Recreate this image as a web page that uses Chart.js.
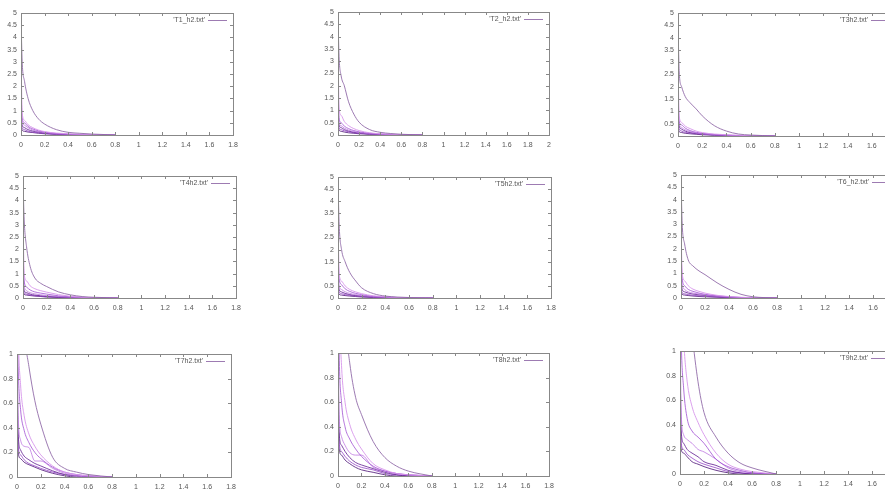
<!DOCTYPE html>
<html>
<head>
<meta charset="utf-8">
<title>h2 runs</title>
<script src="https://cdn.jsdelivr.net/npm/chart.js@4.4.1/dist/chart.umd.min.js"></script>
<style>
html, body { margin: 0; padding: 0; background: #fff; overflow: hidden; width: 885px; height: 491px; }
canvas { position: absolute; filter: blur(0.35px); }
</style>
</head>
<body>
<script>
// sample positions shared by every run (x column of the .txt files)
const X_GRID = [0, 0.01, 0.03, 0.06, 0.1, 0.15, 0.2, 0.3, 0.4, 0.5, 0.6, 0.8]

// one row per run, y values at X_GRID
const t1_h2 = [
	[4.8, 3.0, 2.2, 1.5, 1.0, 0.65, 0.45, 0.22, 0.11, 0.07, 0.04, 0],
	[3.6, 0.9, 0.6, 0.42, 0.3, 0.2, 0.14, 0.08, 0.05, 0.03, 0.02, 0],
	[2.0, 0.7, 0.5, 0.35, 0.25, 0.17, 0.12, 0.06, 0.03, 0.02, 0.01, 0],
	[1.2, 0.55, 0.4, 0.3, 0.2, 0.14, 0.1, 0.05, 0.03, 0.01, 0, 0],
	[0.8, 0.4, 0.3, 0.22, 0.16, 0.12, 0.08, 0.04, 0.02, 0.01, 0, 0],
	[0.6, 0.3, 0.22, 0.16, 0.12, 0.09, 0.06, 0.03, 0.02, 0.01, 0, 0],
	[0.4, 0.2, 0.15, 0.12, 0.1, 0.07, 0.05, 0.03, 0.01, 0, 0, 0],
]
const t2_h2 = [
	[4.8, 3.2, 2.4, 2.0, 1.35, 0.85, 0.52, 0.22, 0.11, 0.06, 0.03, 0],
	[4.0, 1.1, 0.8, 0.55, 0.38, 0.26, 0.18, 0.09, 0.05, 0.03, 0.01, 0],
	[2.5, 0.7, 0.5, 0.36, 0.26, 0.18, 0.13, 0.07, 0.04, 0.02, 0.01, 0],
	[1.5, 0.5, 0.38, 0.28, 0.2, 0.14, 0.1, 0.05, 0.03, 0.01, 0, 0],
	[1.0, 0.4, 0.3, 0.22, 0.16, 0.11, 0.08, 0.04, 0.02, 0.01, 0, 0],
	[0.7, 0.3, 0.22, 0.17, 0.13, 0.09, 0.07, 0.04, 0.02, 0.01, 0, 0],
	[0.5, 0.2, 0.15, 0.12, 0.09, 0.07, 0.05, 0.03, 0.01, 0, 0, 0],
]
const t3_h2 = [
	[4.6, 2.6, 2.0, 1.6, 1.35, 1.1, 0.82, 0.42, 0.2, 0.08, 0.04, 0],
	[3.0, 0.8, 0.55, 0.4, 0.3, 0.2, 0.14, 0.08, 0.05, 0.03, 0.01, 0],
	[1.8, 0.6, 0.45, 0.32, 0.22, 0.15, 0.11, 0.06, 0.03, 0.02, 0.01, 0],
	[1.2, 0.5, 0.35, 0.25, 0.18, 0.12, 0.09, 0.05, 0.03, 0.01, 0, 0],
	[0.8, 0.4, 0.28, 0.2, 0.14, 0.1, 0.08, 0.04, 0.02, 0.01, 0, 0],
	[0.6, 0.3, 0.2, 0.15, 0.12, 0.1, 0.08, 0.05, 0.03, 0.01, 0, 0],
	[0.4, 0.18, 0.14, 0.11, 0.09, 0.07, 0.05, 0.03, 0.01, 0, 0, 0],
]
const t4_h2 = [
	[4.8, 3.2, 2.1, 1.3, 0.82, 0.6, 0.47, 0.25, 0.13, 0.06, 0.03, 0],
	[3.5, 1.0, 0.7, 0.5, 0.38, 0.3, 0.24, 0.14, 0.07, 0.03, 0.01, 0],
	[2.0, 0.7, 0.45, 0.33, 0.25, 0.2, 0.16, 0.09, 0.05, 0.02, 0.01, 0],
	[1.2, 0.5, 0.3, 0.22, 0.17, 0.13, 0.1, 0.06, 0.03, 0.01, 0, 0],
	[0.8, 0.3, 0.22, 0.16, 0.12, 0.09, 0.07, 0.04, 0.02, 0.01, 0, 0],
	[0.5, 0.22, 0.16, 0.12, 0.09, 0.07, 0.05, 0.03, 0.01, 0, 0, 0],
	[0.35, 0.15, 0.12, 0.1, 0.08, 0.06, 0.04, 0.02, 0.01, 0, 0, 0],
]
const t5_h2 = [
	[4.8, 3.0, 2.0, 1.5, 1.05, 0.7, 0.42, 0.18, 0.08, 0.04, 0.02, 0],
	[3.2, 1.0, 0.7, 0.5, 0.35, 0.25, 0.18, 0.09, 0.05, 0.02, 0.01, 0],
	[2.0, 0.8, 0.55, 0.38, 0.27, 0.19, 0.14, 0.07, 0.04, 0.02, 0.01, 0],
	[1.2, 0.5, 0.35, 0.26, 0.19, 0.14, 0.1, 0.05, 0.03, 0.01, 0, 0],
	[0.8, 0.35, 0.25, 0.19, 0.14, 0.1, 0.08, 0.04, 0.02, 0.01, 0, 0],
	[0.5, 0.25, 0.18, 0.14, 0.11, 0.08, 0.06, 0.03, 0.01, 0, 0, 0],
	[0.3, 0.15, 0.12, 0.1, 0.08, 0.06, 0.04, 0.02, 0.01, 0, 0, 0],
]
const t6_h2 = [
	[4.8, 3.0, 2.2, 1.55, 1.3, 1.1, 0.95, 0.62, 0.35, 0.15, 0.05, 0],
	[3.0, 1.0, 0.7, 0.5, 0.36, 0.27, 0.2, 0.11, 0.06, 0.03, 0.01, 0],
	[2.0, 0.8, 0.5, 0.35, 0.27, 0.2, 0.15, 0.09, 0.05, 0.02, 0.01, 0],
	[1.2, 0.55, 0.35, 0.25, 0.2, 0.16, 0.12, 0.07, 0.04, 0.02, 0, 0],
	[0.8, 0.35, 0.25, 0.2, 0.16, 0.13, 0.1, 0.06, 0.03, 0.01, 0, 0],
	[0.5, 0.22, 0.17, 0.14, 0.11, 0.09, 0.07, 0.04, 0.02, 0.01, 0, 0],
	[0.35, 0.15, 0.12, 0.1, 0.08, 0.06, 0.05, 0.03, 0.01, 0, 0, 0],
]
const t7_h2 = [
	[3.0, 2.5, 1.8, 1.2, 0.9, 0.62, 0.43, 0.16, 0.07, 0.04, 0.02, 0],
	[2.0, 1.2, 0.75, 0.5, 0.35, 0.25, 0.18, 0.09, 0.04, 0.02, 0.01, 0],
	[1.5, 0.9, 0.55, 0.38, 0.28, 0.2, 0.15, 0.08, 0.04, 0.02, 0.01, 0],
	[1.2, 0.5, 0.3, 0.25, 0.24, 0.13, 0.13, 0.07, 0.03, 0.01, 0, 0],
	[1.0, 0.35, 0.22, 0.17, 0.14, 0.11, 0.09, 0.05, 0.02, 0.01, 0, 0],
	[0.8, 0.25, 0.18, 0.14, 0.11, 0.09, 0.07, 0.04, 0.02, 0.01, 0, 0],
	[0.6, 0.2, 0.15, 0.12, 0.1, 0.08, 0.06, 0.03, 0.01, 0, 0, 0],
]
const t8_h2 = [
	[3.0, 2.6, 2.0, 1.3, 0.92, 0.64, 0.5, 0.28, 0.15, 0.08, 0.04, 0],
	[2.5, 1.5, 0.9, 0.6, 0.42, 0.3, 0.22, 0.1, 0.05, 0.02, 0.01, 0],
	[1.8, 1.0, 0.6, 0.4, 0.3, 0.22, 0.16, 0.08, 0.04, 0.02, 0.01, 0],
	[1.2, 0.5, 0.32, 0.25, 0.19, 0.17, 0.17, 0.07, 0.04, 0.02, 0.01, 0],
	[1.0, 0.35, 0.25, 0.2, 0.15, 0.11, 0.09, 0.06, 0.03, 0.01, 0, 0],
	[0.8, 0.28, 0.2, 0.16, 0.12, 0.09, 0.07, 0.05, 0.02, 0.01, 0, 0],
	[0.6, 0.22, 0.17, 0.13, 0.1, 0.07, 0.05, 0.03, 0.01, 0, 0, 0],
]
const t9_h2 = [
	[3.0, 2.7, 2.2, 1.6, 1.15, 0.75, 0.5, 0.3, 0.17, 0.09, 0.05, 0],
	[2.5, 1.6, 1.1, 0.75, 0.55, 0.42, 0.32, 0.17, 0.08, 0.04, 0.02, 0],
	[1.8, 1.1, 0.7, 0.45, 0.35, 0.3, 0.25, 0.12, 0.06, 0.03, 0.01, 0],
	[1.2, 0.5, 0.32, 0.28, 0.25, 0.2, 0.18, 0.12, 0.05, 0.02, 0.01, 0],
	[1.0, 0.35, 0.25, 0.2, 0.17, 0.14, 0.1, 0.07, 0.03, 0.01, 0, 0],
	[0.8, 0.25, 0.2, 0.16, 0.13, 0.1, 0.08, 0.05, 0.02, 0.01, 0, 0],
	[0.6, 0.2, 0.17, 0.14, 0.1, 0.08, 0.06, 0.03, 0.01, 0, 0, 0],
]

const FILE_NAMES = [
	"'T1_h2.txt'", "'T2_h2.txt'", "'T3h2.txt'",
	"'T4h2.txt'", "'T5h2.txt'", "'T6_h2.txt'",
	"'T7h2.txt'", "'T8h2.txt'", "'T9h2.txt'",
]
const RUNS = [t1_h2, t2_h2, t3_h2, t4_h2, t5_h2, t6_h2, t7_h2, t8_h2, t9_h2]
const X_MAX = [1.8, 2, 1.8, 1.8, 1.8, 1.8, 1.8, 1.8, 1.8]
const Y_MAX = [5, 5, 5, 5, 5, 5, 1, 1, 1]
const Y_STEP = [0.5, 0.5, 0.5, 0.5, 0.5, 0.5, 0.2, 0.2, 0.2]

// plot frame of each panel in page pixels: left, top, right, bottom
const PANEL_BOXES = [
	[21, 13, 233, 135], [338, 12, 549, 135], [678, 13, 896, 136],
	[23, 176, 236, 298], [338, 177, 551, 298], [681, 175, 897, 298],
	[17, 354, 231, 477], [338, 353, 549, 476], [680, 351, 896, 474],
]

const LINE_COLORS = [
	'rgba(140, 100, 165, 0.85)',
	'rgba(215, 150, 235, 0.9)',
	'rgba(160, 80, 210, 0.8)',
	'rgba(190, 120, 225, 0.8)',
	'rgba(105, 40, 150, 0.85)',
	'rgba(150, 70, 200, 0.8)',
	'rgba(85, 30, 125, 0.85)',
]
const TICK_FONT = { family: 'Liberation Sans', size: 7 }
const TEXT_COLOR = '#555'
const FRAME_COLOR = '#888'

const Y_AXIS_W = 24
const PAD_TOP = 8
const PAD_RIGHT = 14
const X_AXIS_H = 18

const fmt = v => String(Math.round(v * 10) / 10)

// gnuplot style border with inward ticks on all four sides, plus the key
const gnuplot_frame = {
	id: 'gnuplot_frame',
	afterDatasetsDraw (chart) {
		const { ctx, chartArea: a, scales } = chart
		const tick = 3
		ctx.save()
		ctx.strokeStyle = FRAME_COLOR
		ctx.lineWidth = 1
		ctx.strokeRect(a.left + 0.5, a.top + 0.5, a.right - a.left, a.bottom - a.top)
		ctx.beginPath()
		for (const t of scales.x.ticks) {
			const px = Math.round(scales.x.getPixelForValue(t.value)) + 0.5
			ctx.moveTo(px, a.bottom)
			ctx.lineTo(px, a.bottom - tick)
			ctx.moveTo(px, a.top)
			ctx.lineTo(px, a.top + tick)
		}
		for (const t of scales.y.ticks) {
			const py = Math.round(scales.y.getPixelForValue(t.value)) + 0.5
			ctx.moveTo(a.left, py)
			ctx.lineTo(a.left + tick, py)
			ctx.moveTo(a.right, py)
			ctx.lineTo(a.right - tick, py)
		}
		ctx.stroke()

		const first = chart.data.datasets[0]
		const ky = a.top + 7.5
		ctx.font = TICK_FONT.size + 'px ' + TICK_FONT.family
		ctx.fillStyle = TEXT_COLOR
		ctx.textAlign = 'right'
		ctx.textBaseline = 'middle'
		ctx.fillText(first.label, a.right - 28, ky)
		ctx.strokeStyle = first.borderColor
		ctx.beginPath()
		ctx.moveTo(a.right - 25, ky)
		ctx.lineTo(a.right - 6, ky)
		ctx.stroke()
		ctx.restore()
	},
}

function make_panel (idx) {
	const [left, top, right, bottom] = PANEL_BOXES[idx]
	const w = right - left + Y_AXIS_W + PAD_RIGHT
	const h = bottom - top + PAD_TOP + X_AXIS_H
	const canvas = document.createElement('canvas')
	canvas.width = w
	canvas.height = h
	canvas.style.left = (left - Y_AXIS_W) + 'px'
	canvas.style.top = (top - PAD_TOP) + 'px'
	canvas.style.width = w + 'px'
	canvas.style.height = h + 'px'
	document.body.appendChild(canvas)

	const datasets = RUNS[idx].map((ys, i) => ({
		label: FILE_NAMES[idx],
		data: X_GRID.map((x, j) => ({ x, y: ys[j] })),
		borderColor: LINE_COLORS[i % LINE_COLORS.length],
		borderWidth: 1,
		pointRadius: 0,
		fill: false,
		cubicInterpolationMode: 'monotone',
	}))

	return new Chart(canvas, {
		type: 'line',
		data: { datasets },
		plugins: [gnuplot_frame],
		options: {
			responsive: false,
			animation: false,
			events: [],
			layout: { padding: { top: PAD_TOP, right: PAD_RIGHT, left: 0, bottom: 0 } },
			plugins: { legend: { display: false }, tooltip: { enabled: false } },
			scales: {
				x: {
					type: 'linear',
					min: 0,
					max: X_MAX[idx],
					grid: { display: false, drawTicks: false },
					border: { display: false },
					ticks: {
						stepSize: 0.2,
						padding: 6,
						autoSkip: false,
						maxRotation: 0,
						font: TICK_FONT,
						color: TEXT_COLOR,
						callback: fmt,
					},
					afterFit (s) {
						s.height = X_AXIS_H
						s.paddingLeft = 0
						s.paddingRight = 0
					},
				},
				y: {
					min: 0,
					max: Y_MAX[idx],
					grid: { display: false, drawTicks: false },
					border: { display: false },
					ticks: {
						stepSize: Y_STEP[idx],
						padding: 4,
						autoSkip: false,
						font: TICK_FONT,
						color: TEXT_COLOR,
						callback: fmt,
					},
					afterFit (s) {
						s.width = Y_AXIS_W
						s.paddingTop = 0
						s.paddingBottom = 0
					},
				},
			},
		},
	})
}

RUNS.forEach((_, idx) => make_panel(idx))
</script>
</body>
</html>
